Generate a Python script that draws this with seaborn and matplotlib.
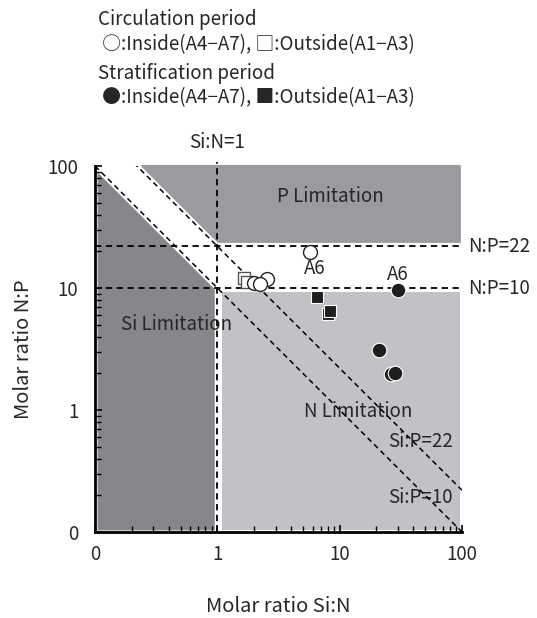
import numpy as np
import pandas as pd
import matplotlib
matplotlib.use('Agg')
import matplotlib.pyplot as plt
import matplotlib.transforms as mtransforms
from matplotlib.ticker import LogLocator, FixedLocator, FixedFormatter, NullFormatter
import seaborn as sns

sns.set_style('ticks')
plt.rcParams['font.family'] = ['Noto Sans CJK JP', 'DejaVu Sans']
plt.rcParams['font.size'] = 13.5

# threshold ratios (Redfield-type limits)
si_n_limit = 1
n_p_limits = [10, 22]
si_p_limits = [10, 22]

# circulation period, inside (A4-A7) -> open circles
circ_in_x = [5.7, 2.55, 1.99, 2.25]
circ_in_y = [19.8, 11.8, 10.9, 10.8]
# circulation period, outside (A1-A3) -> open squares
circ_out_x = [1.64, 1.75]
circ_out_y = [12.0, 11.3]
# stratification period, inside (A4-A7) -> filled circles
strat_in_x = [29.9, 21.0, 26.2, 28.4]
strat_in_y = [9.6, 3.1, 1.97, 2.02]
# stratification period, outside (A1-A3) -> filled squares
strat_out_x = [6.5, 8.0, 8.4]
strat_out_y = [8.5, 6.1, 6.5]

df = pd.concat([
    pd.DataFrame({'SiN': circ_in_x, 'NP': circ_in_y, 'grp': 'circ_in'}),
    pd.DataFrame({'SiN': circ_out_x, 'NP': circ_out_y, 'grp': 'circ_out'}),
    pd.DataFrame({'SiN': strat_in_x, 'NP': strat_in_y, 'grp': 'strat_in'}),
    pd.DataFrame({'SiN': strat_out_x, 'NP': strat_out_y, 'grp': 'strat_out'}),
], ignore_index=True)

fig = plt.figure(figsize=(5.37, 6.18), dpi=100)
ax = fig.add_axes([95 / 537, 1 - 532 / 618, 367 / 537, 366 / 618])
ax.set_xscale('log')
ax.set_yscale('log')
xmin, xmax, ymin, ymax = 0.1, 100, 0.1, 100
ax.set_xlim(xmin, xmax)
ax.set_ylim(ymin, ymax)

# shaded limitation zones (drawn a little inside the boundary lines)
g = 1.075
xs = np.geomspace(xmin * 1.04, si_n_limit / 1.06, 200)
ax.fill_between(xs, ymin * 1.04, np.minimum(si_p_limits[0] / g / xs, ymax * 0.9),
                color='#87878b', lw=0, zorder=0)
xp = np.geomspace(si_p_limits[1] * g / ymax, xmax * 0.97, 300)
ax.fill_between(xp, np.maximum(n_p_limits[1] * g, si_p_limits[1] * g / xp), ymax * 1.03,
                color='#9b9b9f', lw=0, zorder=0, clip_on=False)
xn = np.geomspace(si_n_limit * 1.1, xmax * 0.97, 50)
ax.fill_between(xn, ymin * 1.04, n_p_limits[0] / g, color='#c2c2c6', lw=0, zorder=0)

dash = (0, (3.5, 2.5))
ax.axvline(si_n_limit, ymax=1.01, color='k', lw=1.3, ls=dash, zorder=1, clip_on=False)
for v in n_p_limits:
    ax.axhline(v, color='k', lw=1.3, ls=dash, zorder=1)
xd = np.geomspace(xmin, xmax, 200)
for v in si_p_limits:
    ax.plot(xd, v / xd, color='k', lw=1.1, ls=dash, zorder=1)

sty = {
    'circ_in': dict(marker='o', s=100, facecolor='white', edgecolor='#222222', linewidth=1.0),
    'circ_out': dict(marker='s', s=85, facecolor='white', edgecolor='#555555', linewidth=1.0),
    'strat_out': dict(marker='s', s=85, facecolor='#1e1e1e', edgecolor='white', linewidth=0.8),
    'strat_in': dict(marker='o', s=110, facecolor='#1e1e1e', edgecolor='white', linewidth=0.8),
}
for grp in ['circ_out', 'circ_in', 'strat_out', 'strat_in']:
    sns.scatterplot(data=df[df['grp'] == grp], x='SiN', y='NP', ax=ax, zorder=3,
                    legend=False, **sty[grp])

# axes styling
sns.despine(ax=ax)
for sp in ['left', 'bottom']:
    ax.spines[sp].set_linewidth(2)
    ax.spines[sp].set_color('black')
ticks = [0.1, 1, 10, 100]
labels = ['0', '1', '10', '100']
for axis in [ax.xaxis, ax.yaxis]:
    axis.set_major_locator(FixedLocator(ticks))
    axis.set_major_formatter(FixedFormatter(labels))
    axis.set_minor_locator(LogLocator(base=10, subs=np.arange(2, 10)))
    axis.set_minor_formatter(NullFormatter())
ax.tick_params(which='major', direction='in', length=5, width=1.2, labelsize=13.5, color='black')
ax.tick_params(which='minor', direction='in', length=4, width=1.0, color='black')
ax.tick_params(axis='x', which='major', pad=9)
ax.tick_params(axis='y', which='major', pad=12)
ax.set_xlabel('Molar ratio Si:N', fontsize=14.5, labelpad=22)
ax.set_ylabel('Molar ratio N:P', fontsize=14.5, labelpad=10)

# annotations
ax.text(8.4, 56, 'P Limitation', ha='center', va='center')
ax.text(0.46, 5.0, 'Si Limitation', ha='center', va='center', zorder=0.5)
ax.text(14.2, 0.97, 'N Limitation', ha='center', va='center', zorder=0.5)
ax.text(45.7, 0.55, 'Si:P=22', ha='center', va='center', zorder=0.5)
ax.text(45.7, 0.19, 'Si:P=10', ha='center', va='center', zorder=0.5)
ax.text(6.2, 14.5, 'A6', ha='center', va='center')
ax.text(30, 12.8, 'A6', ha='center', va='center')

tr_r = mtransforms.blended_transform_factory(ax.transAxes, ax.transData)
for v in n_p_limits:
    ax.text(1.017, v, f'N:P={v}', transform=tr_r, ha='left', va='center', clip_on=False)
tr_t = mtransforms.blended_transform_factory(ax.transData, ax.transAxes)
ax.text(si_n_limit, 1.063, f'Si:N={si_n_limit}', transform=tr_t,
        ha='center', va='center', clip_on=False)

# legend-like header text
hx = 98 / 537
fig.text(hx, 1 - 20 / 618, 'Circulation period', va='center')
fig.text(hx, 1 - 45 / 618, ' ○:Inside(A4−A7), □:Outside(A1−A3)', va='center')
fig.text(hx, 1 - 73 / 618, 'Stratification period', va='center')
fig.text(hx, 1 - 98 / 618, ' ●:Inside(A4−A7), ■:Outside(A1−A3)', va='center')

fig.savefig('out.png', dpi=100)
plt.close(fig)
